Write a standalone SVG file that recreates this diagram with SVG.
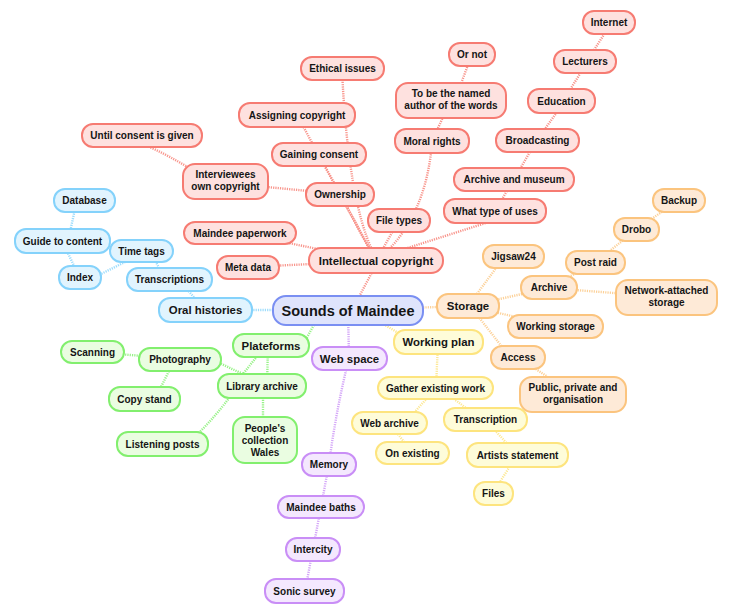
<svg xmlns="http://www.w3.org/2000/svg" width="732" height="612" viewBox="0 0 732 612">
<style>
text{font-family:"Liberation Sans",Arial,sans-serif;font-weight:bold;fill:#151515;text-anchor:middle;font-size:10px}
.m{font-size:11.4px}
.c{font-size:14.5px}
rect{stroke-width:2}
.red rect{fill:#fee1df;stroke:#f67b72}
.blue rect{fill:#e1f4fe;stroke:#84d2fb}
.ctr rect{fill:#dfe4fc;stroke:#7a8ff2}
.org rect{fill:#feead7;stroke:#fbc47e}
.yel rect{fill:#fefcd9;stroke:#fde47e}
.grn rect{fill:#eafde1;stroke:#82ef6e}
.pur rect{fill:#f4e8fe;stroke:#c98ef6}
#connectors path{fill:none;stroke-width:2.4;stroke-dasharray:1.2 1.1}
.cr{stroke:#f8958c}
.cb{stroke:#9cdcfc}
.co{stroke:#fcd199}
.cy{stroke:#fde894}
.cg{stroke:#98f288}
.cp{stroke:#d4a6f8}
</style>
<rect width="732" height="612" fill="#ffffff" style="stroke:none"/>
<g id="connectors">
<!-- red -->
<path class="cr" d="M378 261 L352 310"/>
<path class="cr" d="M248 267 L376 261"/>
<path class="cr" d="M240 233 L376 261"/>
<path class="cr" d="M340 194 L376 261"/>
<path class="cr" d="M319 155 L376 261"/>
<path class="cr" d="M297 115 L376 261"/>
<path class="cr" d="M342 70 Q348 200 373 252"/>
<path class="cr" d="M399 220 L376 261"/>
<path class="cr" d="M432 145 Q425 215 386 252"/>
<path class="cr" d="M492 221 L395 252"/>
<path class="cr" d="M225 183 L340 194"/>
<path class="cr" d="M140 143 Q170 155 205 178"/>
<path class="cr" d="M472 54 L455 100"/>
<path class="cr" d="M451 100 L432 141"/>
<path class="cr" d="M514 179 L495 211"/>
<path class="cr" d="M537 140 L514 179"/>
<path class="cr" d="M565 101 L537 140"/>
<path class="cr" d="M588 61 L563 101"/>
<path class="cr" d="M612 22 L587 61"/>
<!-- blue -->
<path class="cb" d="M205 310 L348 310"/>
<path class="cb" d="M178 279 L205 310"/>
<path class="cb" d="M150 251 L165 279"/>
<path class="cb" d="M85 282 L135 257"/>
<path class="cb" d="M62 241 L80 278"/>
<path class="cb" d="M77 200 L68 241"/>
<!-- orange -->
<path class="co" d="M468 306 L348 310"/>
<path class="co" d="M505 256 L468 306"/>
<path class="co" d="M549 288 L468 306"/>
<path class="co" d="M596 262 L549 288"/>
<path class="co" d="M637 229 L596 262"/>
<path class="co" d="M679 200 L637 229"/>
<path class="co" d="M666 297 L549 288"/>
<path class="co" d="M555 326 L468 306"/>
<path class="co" d="M510 357 L470 306"/>
<path class="co" d="M573 394 L518 357"/>
<!-- yellow -->
<path class="cy" d="M430 352 L370 316"/>
<path class="cy" d="M436 388 L438 342"/>
<path class="cy" d="M405 423 L436 388"/>
<path class="cy" d="M480 419 L440 388"/>
<path class="cy" d="M413 453 L389 423"/>
<path class="cy" d="M517 455 L485 419"/>
<path class="cy" d="M493 493 L517 455"/>
<!-- purple -->
<path class="cp" d="M349 358 L348 310"/>
<path class="cp" d="M329 464 Q336 410 349 358"/>
<path class="cp" d="M321 507 L329 464"/>
<path class="cp" d="M313 549 L321 507"/>
<path class="cp" d="M305 591 L313 549"/>
<!-- green -->
<path class="cg" d="M300 350 L325 305"/>
<path class="cg" d="M267 386 L268 345"/>
<path class="cg" d="M200 354 L243 374 L262 350"/>
<path class="cg" d="M93 352 L180 359"/>
<path class="cg" d="M155 399 L175 359"/>
<path class="cg" d="M180 450 Q210 425 235 390"/>
<path class="cg" d="M263 440 L263 386"/>
</g>

<!-- Centre -->
<g id="n-sounds" class="ctr"><rect x="273" y="296" width="150" height="29" rx="13"/><text class="c" x="348" y="315.5">Sounds of Maindee</text></g>

<!-- Red branch -->
<g id="n-ic" class="red"><rect x="309" y="248" width="134" height="25" rx="12"/><text class="m" x="376" y="264.5">Intellectual copyright</text></g>
<g id="n-metadata" class="red"><rect x="217" y="256" width="62" height="23" rx="11"/><text x="248" y="271">Meta data</text></g>
<g id="n-paperwork" class="red"><rect x="184" y="222" width="112" height="22" rx="11"/><text x="240" y="236.5">Maindee paperwork</text></g>
<g id="n-ethical" class="red"><rect x="301" y="57" width="83" height="23" rx="11"/><text x="342.5" y="72">Ethical issues</text></g>
<g id="n-assign" class="red"><rect x="239" y="103" width="116" height="24" rx="11"/><text x="297" y="118.5">Assigning copyright</text></g>
<g id="n-until" class="red"><rect x="82" y="124" width="120" height="23" rx="11"/><text x="142" y="139">Until consent is given</text></g>
<g id="n-gaining" class="red"><rect x="272" y="143" width="94" height="23" rx="11"/><text x="319" y="158">Gaining consent</text></g>
<g id="n-interviewees" class="red"><rect x="183" y="164" width="85" height="35" rx="12"/><text x="225.5" y="178">Interviewees</text><text x="225.5" y="190">own copyright</text></g>
<g id="n-ownership" class="red"><rect x="306" y="183" width="68" height="23" rx="11"/><text x="340" y="198">Ownership</text></g>
<g id="n-filetypes" class="red"><rect x="368" y="209" width="62" height="23" rx="11"/><text x="399" y="224">File types</text></g>
<g id="n-moral" class="red"><rect x="395" y="129" width="74" height="24" rx="11"/><text x="432" y="144.5">Moral rights</text></g>
<g id="n-named" class="red"><rect x="396" y="83" width="110" height="35" rx="12"/><text x="451" y="97">To be the named</text><text x="451" y="109">author of the words</text></g>
<g id="n-ornot" class="red"><rect x="449" y="43" width="46" height="23" rx="11"/><text x="472" y="58">Or not</text></g>
<g id="n-whattype" class="red"><rect x="444" y="199" width="102" height="24" rx="11"/><text x="495" y="214.5">What type of uses</text></g>
<g id="n-archmuseum" class="red"><rect x="454" y="168" width="120" height="23" rx="11"/><text x="514" y="183">Archive and museum</text></g>
<g id="n-broadcasting" class="red"><rect x="496" y="129" width="83" height="23" rx="11"/><text x="537.5" y="144">Broadcasting</text></g>
<g id="n-education" class="red"><rect x="528" y="89" width="67" height="24" rx="11"/><text x="561.5" y="104.5">Education</text></g>
<g id="n-lecturers" class="red"><rect x="554" y="50" width="62" height="23" rx="11"/><text x="585" y="65">Lecturers</text></g>
<g id="n-internet" class="red"><rect x="583" y="11" width="52" height="23" rx="11"/><text x="609" y="26">Internet</text></g>

<!-- Blue branch -->
<g id="n-oral" class="blue"><rect x="159" y="298" width="93" height="24" rx="11"/><text class="m" x="205.5" y="314">Oral histories</text></g>
<g id="n-transcriptions" class="blue"><rect x="127" y="268" width="85" height="23" rx="11"/><text x="169.5" y="283">Transcriptions</text></g>
<g id="n-guide" class="blue"><rect x="15" y="229" width="95" height="24" rx="11"/><text x="62.5" y="244.5">Guide to content</text></g>
<g id="n-timetags" class="blue"><rect x="110" y="240" width="63" height="22" rx="11"/><text x="141.5" y="254.5">Time tags</text></g>
<g id="n-index" class="blue"><rect x="59" y="266" width="42" height="23" rx="11"/><text x="80" y="281">Index</text></g>
<g id="n-database" class="blue"><rect x="54" y="189" width="61" height="23" rx="11"/><text x="84.5" y="204">Database</text></g>

<!-- Orange branch -->
<g id="n-storage" class="org"><rect x="437" y="294" width="62" height="24" rx="11"/><text class="m" x="468" y="310">Storage</text></g>
<g id="n-jigsaw" class="org"><rect x="483" y="245" width="61" height="23" rx="11"/><text x="513.5" y="260">Jigsaw24</text></g>
<g id="n-archive" class="org"><rect x="521" y="276" width="56" height="23" rx="11"/><text x="549" y="291">Archive</text></g>
<g id="n-postraid" class="org"><rect x="566" y="251" width="59" height="23" rx="11"/><text x="595.5" y="266">Post raid</text></g>
<g id="n-drobo" class="org"><rect x="614" y="218" width="45" height="23" rx="11"/><text x="636.5" y="233">Drobo</text></g>
<g id="n-backup" class="org"><rect x="653" y="189" width="52" height="23" rx="11"/><text x="679" y="204">Backup</text></g>
<g id="n-nas" class="org"><rect x="616" y="280" width="101" height="35" rx="12"/><text x="666.5" y="294">Network-attached</text><text x="666.5" y="306">storage</text></g>
<g id="n-workingstorage" class="org"><rect x="508" y="315" width="95" height="23" rx="11"/><text x="555.5" y="330">Working storage</text></g>
<g id="n-access" class="org"><rect x="491" y="346" width="54" height="23" rx="11"/><text x="518" y="361">Access</text></g>
<g id="n-public" class="org"><rect x="520" y="377" width="106" height="35" rx="12"/><text x="573" y="391">Public, private and</text><text x="573" y="403">organisation</text></g>

<!-- Yellow branch -->
<g id="n-workingplan" class="yel"><rect x="394" y="330" width="89" height="24" rx="11"/><text class="m" x="438.5" y="346">Working plan</text></g>
<g id="n-gather" class="yel"><rect x="378" y="377" width="115" height="22" rx="11"/><text x="435.5" y="391.5">Gather existing work</text></g>
<g id="n-webarchive" class="yel"><rect x="352" y="412" width="75" height="22" rx="11"/><text x="389.5" y="426.5">Web archive</text></g>
<g id="n-transcription" class="yel"><rect x="444" y="408" width="83" height="23" rx="11"/><text x="485.5" y="423">Transcription</text></g>
<g id="n-onexisting" class="yel"><rect x="376" y="442" width="73" height="22" rx="11"/><text x="412.5" y="456.5">On existing</text></g>
<g id="n-artists" class="yel"><rect x="467" y="443" width="101" height="24" rx="11"/><text x="517.5" y="458.5">Artists statement</text></g>
<g id="n-files" class="yel"><rect x="474" y="482" width="39" height="23" rx="11"/><text x="493.5" y="497">Files</text></g>

<!-- Purple branch -->
<g id="n-webspace" class="pur"><rect x="312" y="347" width="75" height="23" rx="11"/><text class="m" x="349.5" y="362.5">Web space</text></g>
<g id="n-memory" class="pur"><rect x="302" y="453" width="54" height="23" rx="11"/><text x="329" y="468">Memory</text></g>
<g id="n-baths" class="pur"><rect x="278" y="496" width="86" height="22" rx="11"/><text x="321" y="510.5">Maindee baths</text></g>
<g id="n-intercity" class="pur"><rect x="286" y="538" width="54" height="23" rx="11"/><text x="313" y="553">Intercity</text></g>
<g id="n-sonic" class="pur"><rect x="265" y="579" width="79" height="24" rx="11"/><text x="304.5" y="594.5">Sonic survey</text></g>

<!-- Green branch -->
<g id="n-plateforms" class="grn"><rect x="233" y="334" width="76" height="23" rx="11"/><text class="m" x="271" y="349.5">Plateforms</text></g>
<g id="n-scanning" class="grn"><rect x="61" y="341" width="63" height="22" rx="11"/><text x="92.5" y="355.5">Scanning</text></g>
<g id="n-photography" class="grn"><rect x="139" y="348" width="82" height="23" rx="11"/><text x="180" y="363">Photography</text></g>
<g id="n-library" class="grn"><rect x="218" y="374" width="88" height="24" rx="11"/><text x="262" y="389.5">Library archive</text></g>
<g id="n-copystand" class="grn"><rect x="109" y="387" width="71" height="24" rx="11"/><text x="144.5" y="402.5">Copy stand</text></g>
<g id="n-listening" class="grn"><rect x="117" y="432" width="91" height="24" rx="11"/><text x="162.5" y="447.5">Listening posts</text></g>
<g id="n-peoples" class="grn"><rect x="233" y="417" width="64" height="46" rx="12"/><text x="265" y="432">People's</text><text x="265" y="444">collection</text><text x="265" y="456">Wales</text></g>
</svg>
